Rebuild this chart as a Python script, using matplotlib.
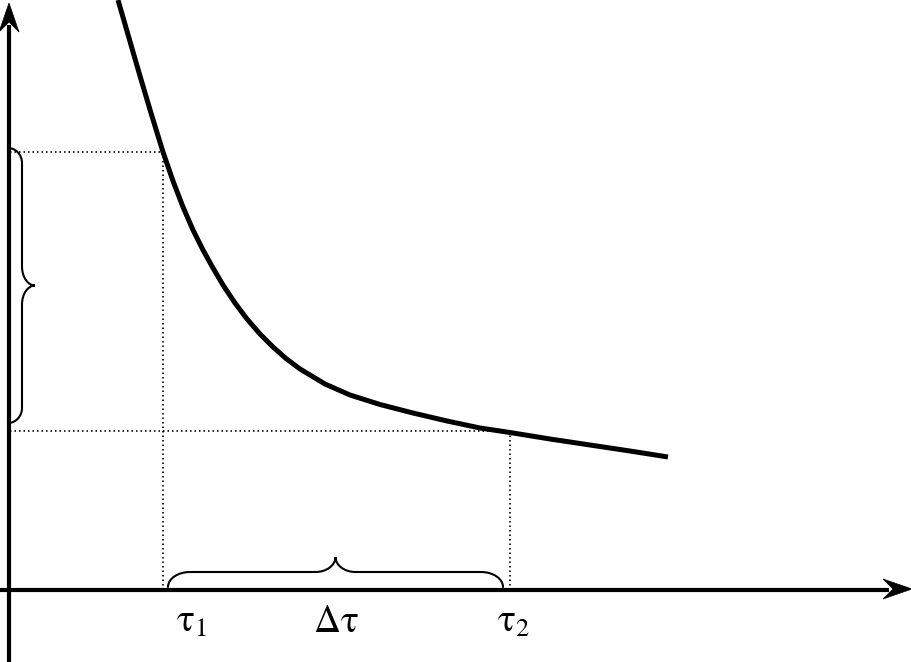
import numpy as np
import matplotlib
matplotlib.use("Agg")
import matplotlib.pyplot as plt
from matplotlib.path import Path
from matplotlib.patches import PathPatch, Polygon

plt.rcParams['mathtext.fontset'] = 'stix'

# ---- data (axis units: origin at axes intersection) ----
curve_x = [109, 120, 131, 142, 154, 164, 174, 184, 194, 204, 214, 226, 238, 251, 264,
           277, 291, 316, 341, 371, 404, 438, 471, 501, 541, 581, 621, 659]
curve_y = [590, 552, 514, 477, 438, 409, 383, 360, 340, 322, 305, 287, 271, 256, 243,
           231.5, 221, 206, 195, 185.5, 177, 169, 162, 157.5, 151, 145, 139, 133]
tau1, tau2 = 154, 501
level1, level2 = 438, 159
labels = [r'$\mathrm{\tau}_{1}$', r'$\Delta\mathrm{\tau}$', r'$\mathrm{\tau}_{2}$']
label_x = [182, 327, 504]

fig = plt.figure(figsize=(9.12, 6.62), dpi=100)
ax = fig.add_axes([0, 0, 1, 1])
ax.set_xlim(-9, 903)
ax.set_ylim(-72, 590)
ax.axis('off')

# axes lines
ax.plot([-9, 880], [0, 0], color='black', lw=3, solid_capstyle='butt')
ax.plot([0, 0], [-72, 565], color='black', lw=3, solid_capstyle='butt')


def arrowhead(tip, direction, length=29, half=10, notch=10):
    tip = np.array(tip, float)
    d = np.array(direction, float)
    d /= np.linalg.norm(d)
    n = np.array([-d[1], d[0]])
    base = tip - d * length
    pts = [tip, base + n * half, tip - d * (length - notch), base - n * half]
    ax.add_patch(Polygon(pts, closed=True, facecolor='black', edgecolor='black',
                         lw=0.5, clip_on=False, zorder=5))


arrowhead((903, 1), (1, 0))
arrowhead((0, 587), (0, 1))

# curve
ax.plot(curve_x, curve_y, color='black', lw=3.6, solid_capstyle='butt',
        solid_joinstyle='round', zorder=4)

# dotted guides
dot = dict(color='black', lw=1.2, linestyle=(0, (0.9, 1.8)))
ax.plot([1, tau1], [level1, level1], **dot)
ax.plot([tau1, tau1], [level1, 0], **dot)
ax.plot([1, tau2], [level2, level2], **dot)
ax.plot([tau2, tau2], [level2, 0], **dot)


def brace(p0, p1, a, w, r, r2, outward):
    """Curly brace from p0 to p1 bulging toward 'outward' unit vector."""
    p0 = np.array(p0, float)
    p1 = np.array(p1, float)
    L = np.linalg.norm(p1 - p0)
    u = (p1 - p0) / L
    v = np.array(outward, float)
    k = 0.552
    m = L / 2
    loc = [
        (0, 0),
        (0, k * a), (r - k * r, a), (r, a),
        (m - r2, a),
        (m - r2 + k * r2, a), (m, w - k * (w - a)), (m, w),
        (m, w - k * (w - a)), (m + r2 - k * r2, a), (m + r2, a),
        (L - r, a),
        (L - r + k * r, a), (L, k * a), (L, 0),
    ]
    codes = [Path.MOVETO,
             Path.CURVE4, Path.CURVE4, Path.CURVE4,
             Path.LINETO,
             Path.CURVE4, Path.CURVE4, Path.CURVE4,
             Path.CURVE4, Path.CURVE4, Path.CURVE4,
             Path.LINETO,
             Path.CURVE4, Path.CURVE4, Path.CURVE4]
    verts = [p0 + uu * u + vv * v for uu, vv in loc]
    ax.add_patch(PathPatch(Path(verts, codes), facecolor='none', edgecolor='black',
                           lw=1.5, capstyle='round', zorder=3))


brace((-1, 442), (-1, 167), a=14, w=27, r=15, r2=19, outward=(1, 0))
brace((159, 3), (494, 3), a=15, w=30, r=22, r2=20, outward=(0, 1))

for lx, lab in zip(label_x, labels):
    ax.text(lx, -42, lab, fontsize=27, ha='center', va='baseline', color='black')

fig.savefig('out.png', dpi=100)
